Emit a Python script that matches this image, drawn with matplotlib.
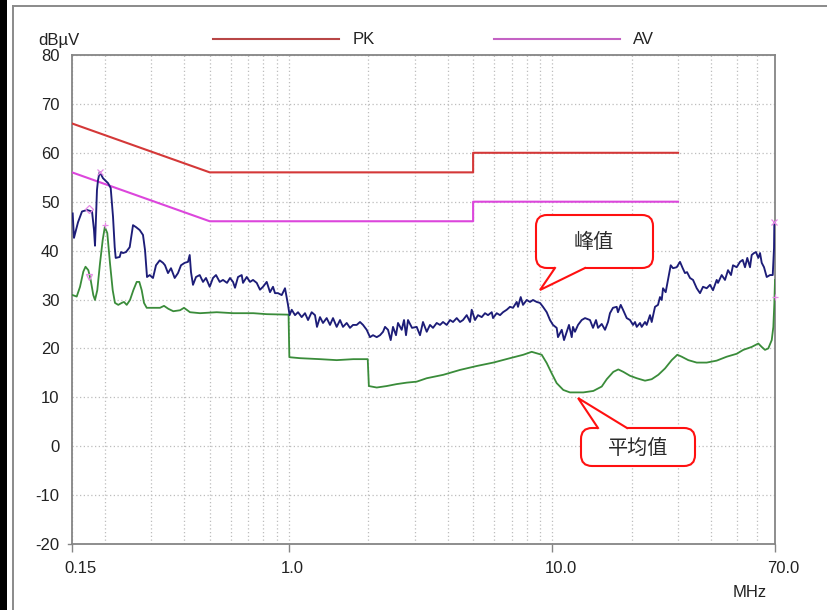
import matplotlib

matplotlib.use("Agg")
import matplotlib.pyplot as plt
from matplotlib.lines import Line2D
from matplotlib.patches import FancyBboxPatch, Polygon, Rectangle
from matplotlib.ticker import FixedLocator, NullFormatter
from matplotlib.transforms import Affine2D, ScaledTranslation

W, H, DPI = 828, 610, 100

# limit lines, MHz / dBuV
limit_freq = [0.15, 0.5, 0.5, 5.0, 5.0, 30.0]
pk_limit = [66, 56, 56, 56, 60, 60]
av_limit = [56, 46, 46, 46, 50, 50]

# peak trace (navy)
peak_freq = [
    0.1509, 0.1526, 0.1581, 0.1637, 0.1710, 0.1787, 0.1818, 0.1834, 0.1866, 0.1883,
    0.1911, 0.1967, 0.2055, 0.2104, 0.2147, 0.2179, 0.2198, 0.2276, 0.2302, 0.2343,
    0.2405, 0.2484, 0.2557, 0.2625, 0.2711, 0.2790, 0.2840, 0.2890, 0.2959, 0.3045,
    0.3126, 0.3229, 0.3323, 0.3382, 0.3472, 0.3564, 0.3681, 0.3789, 0.3890, 0.4018,
    0.4135, 0.4197, 0.4245, 0.4320, 0.4435, 0.4581, 0.4715, 0.4840, 0.4999, 0.5145,
    0.5282, 0.5456, 0.5616, 0.5816, 0.5970, 0.6129, 0.6237, 0.6403, 0.6613, 0.6689,
    0.6910, 0.7112, 0.7301, 0.7540, 0.7760, 0.7967, 0.8229, 0.8469, 0.8694, 0.8847,
    0.9084, 0.9382, 0.9656, 0.9801, 0.9913, 1.005, 1.024, 1.054, 1.082, 1.117,
    1.150, 1.181, 1.219, 1.255, 1.277, 1.311, 1.346, 1.390, 1.431, 1.469,
    1.517, 1.562, 1.603, 1.656, 1.704, 1.750, 1.807, 1.860, 1.910, 1.972,
    2.030, 2.084, 2.153, 2.216, 2.275, 2.315, 2.376, 2.433, 2.482, 2.548,
    2.593, 2.678, 2.733, 2.781, 2.830, 2.931, 3.053, 3.143, 3.226, 3.333,
    3.430, 3.521, 3.637, 3.744, 3.843, 3.969, 4.086, 4.194, 4.332, 4.459,
    4.577, 4.728, 4.866, 4.939, 5.083, 5.218, 5.390, 5.548, 5.695, 5.883,
    5.950, 6.145, 6.326, 6.493, 6.707, 6.902, 7.086, 7.320, 7.403, 7.580,
    7.734, 7.988, 8.222, 8.440, 8.718, 8.972, 9.211, 9.515, 9.793, 10.05,
    10.38, 10.50, 10.85, 11.07, 11.33, 11.56, 11.84, 11.97, 12.18, 12.51,
    12.92, 13.30, 13.89, 14.26, 14.64, 14.90, 15.39, 15.84, 16.26, 16.54,
    16.98, 17.54, 17.74, 18.17, 18.54, 19.15, 19.71, 20.23, 20.59, 20.90,
    21.51, 21.83, 22.47, 22.80, 23.47, 23.82, 24.52, 25.17, 25.61, 26.00,
    26.30, 26.92, 27.47, 28.13, 28.70, 29.64, 30.51, 31.24, 31.87, 32.44,
    33.30, 34.19, 35.31, 36.34, 37.31, 38.53, 39.66, 40.71, 42.05, 42.53,
    43.93, 45.21, 46.42, 47.65, 48.49, 50.08, 51.55, 52.78, 53.85, 54.94,
    56.26, 57.10, 58.27, 59.30, 60.50, 61.41, 62.33, 63.59, 65.11, 67.02,
    68.63, 69.40, 69.60,
]
peak_level = [
    47.6, 42.6, 45.8, 48.0, 48.3, 48.0, 44.2, 41.0, 52.4, 54.4,
    56.1, 54.8, 53.8, 52.8, 46.9, 40.7, 38.5, 38.7, 39.7, 39.5,
    39.7, 40.7, 45.2, 44.8, 44.2, 43.2, 40.1, 34.6, 35.0, 34.4,
    37.0, 38.0, 37.5, 37.0, 35.4, 36.4, 34.4, 35.4, 37.0, 37.5,
    37.7, 39.1, 35.6, 33.0, 34.6, 35.0, 33.6, 34.4, 32.6, 34.4,
    35.0, 33.6, 34.0, 33.4, 34.4, 33.6, 32.4, 34.6, 35.0, 33.4,
    34.6, 33.6, 34.0, 33.4, 32.0, 32.6, 33.6, 31.5, 32.6, 31.3,
    31.3, 30.9, 32.3, 30.3, 28.9, 26.8, 27.9, 26.8, 27.4, 26.4,
    27.2, 25.8, 27.4, 26.8, 24.4, 26.4, 25.2, 26.2, 24.8, 26.2,
    24.4, 25.8, 24.4, 25.2, 24.2, 24.8, 24.8, 25.4, 24.8, 23.8,
    22.3, 22.7, 22.3, 22.7, 23.4, 24.4, 23.8, 21.7, 24.4, 22.7,
    25.2, 23.8, 25.8, 22.7, 25.8, 24.2, 24.4, 22.7, 25.4, 23.4,
    24.8, 24.2, 25.2, 24.8, 25.4, 24.8, 25.8, 25.4, 26.2, 25.4,
    25.8, 26.8, 25.4, 27.9, 25.8, 26.8, 26.4, 27.2, 26.8, 27.4,
    26.2, 27.2, 26.8, 27.4, 27.9, 28.5, 28.3, 29.5, 28.5, 30.5,
    28.9, 29.9, 29.5, 29.9, 29.5, 29.3, 28.5, 27.4, 25.8, 24.8,
    24.2, 22.3, 23.8, 21.7, 23.4, 24.8, 22.3, 24.4, 23.4, 24.8,
    25.8, 26.2, 25.8, 24.2, 25.8, 24.2, 25.0, 23.8, 25.4, 27.2,
    28.3, 28.5, 27.4, 28.9, 27.9, 26.2, 25.8, 24.8, 25.4, 24.4,
    25.2, 24.4, 25.4, 24.8, 26.8, 25.4, 28.5, 28.9, 30.5, 29.9,
    32.3, 31.5, 34.0, 37.0, 36.4, 36.6, 37.7, 36.4, 35.4, 35.6,
    34.4, 34.0, 32.3, 31.3, 32.6, 32.3, 33.0, 31.9, 34.0, 33.4,
    35.0, 34.0, 36.0, 35.0, 37.0, 36.6, 37.7, 38.1, 36.6, 38.5,
    36.6, 39.1, 39.5, 39.7, 38.5, 39.5, 37.5, 36.6, 34.6, 35.0,
    35.0, 40.5, 45.8,
]

# average trace (green)
avg_freq = [
    0.1509, 0.1563, 0.1609, 0.1656, 0.1688, 0.1730, 0.1766, 0.1807, 0.1834, 0.1871,
    0.1916, 0.1962, 0.1998, 0.2042, 0.2091, 0.2141, 0.2184, 0.2248, 0.2316, 0.2363,
    0.2420, 0.2491, 0.2564, 0.2641, 0.2702, 0.2759, 0.2815, 0.2882, 0.3053, 0.3237,
    0.3353, 0.3481, 0.3637, 0.3856, 0.3993, 0.4208, 0.4593, 0.5315, 0.6145, 0.7321,
    0.8229, 0.9960, 1.0030, 1.101, 1.311, 1.517, 1.754, 1.990, 2.010, 2.153,
    2.349, 2.563, 2.799, 3.053, 3.333, 3.853, 4.459, 5.160, 5.965, 6.902,
    7.754, 8.345, 8.718, 9.108, 9.515, 9.938, 10.38, 11.00, 11.66, 13.10,
    14.30, 15.39, 16.08, 17.03, 17.79, 18.59, 19.71, 20.90, 22.47, 23.82,
    25.24, 26.76, 28.37, 29.80, 30.97, 32.81, 35.31, 38.53, 42.05, 45.89,
    50.08, 53.06, 57.10, 60.50, 62.33, 64.14, 66.02, 68.03, 68.99, 69.60,
    70.0,
]
avg_level = [
    30.9, 30.6, 32.6, 35.7, 36.7, 36.0, 34.0, 30.9, 29.9, 31.9,
    37.4, 42.2, 44.8, 43.6, 37.4, 31.9, 29.3, 28.9, 29.3, 29.5,
    28.9, 29.9, 31.9, 33.6, 33.6, 31.9, 29.3, 28.3, 28.3, 28.3,
    28.7, 28.1, 27.6, 27.8, 28.3, 27.4, 27.2, 27.4, 27.2, 27.2,
    27.0, 26.9, 18.2, 18.0, 17.8, 17.6, 17.8, 17.8, 12.3, 12.0,
    12.3, 12.7, 13.0, 13.2, 13.9, 14.6, 15.6, 16.4, 17.1, 18.0,
    18.7, 19.3, 19.0, 18.7, 17.0, 14.9, 12.9, 11.5, 11.0, 11.0,
    11.3, 12.2, 13.7, 15.2, 15.7, 15.2, 14.4, 13.9, 13.4, 13.7,
    14.6, 15.9, 17.6, 18.7, 18.3, 17.6, 17.1, 17.1, 17.5, 18.3,
    18.9, 19.7, 20.3, 21.0, 20.3, 19.7, 20.0, 21.7, 24.4, 29.2,
    34.0,
]

# small pink markers on the traces
mark_freq = [0.1911, 69.6, 0.1736, 0.2007, 0.1736, 70.0]
mark_level = [56.1, 45.8, 48.6, 45.2, 34.7, 30.5]
mark_style = ["x", "x", "D", "+", "v", "+"]

x_ticks = [0.15, 1.0, 10.0, 70.0]
x_ticklabels = ["0.15", "1.0", "10.0", "70.0"]
x_minor = [0.2, 0.3, 0.4, 0.5, 0.6, 0.7, 0.8, 0.9, 2, 3, 4, 5, 6, 7, 8, 9, 20, 30, 40, 50, 60]
y_ticks = list(range(-20, 81, 10))

NAVY = "#1d1d78"
GREEN = "#3a8c3a"
PK_RED = "#d43838"
AV_MAG = "#dc46dc"
GRID = "#bdbdbd"
SPINE = "#858585"
INK = "#222222"
CALLOUT = "#ff1010"
PINK = "#e68ae6"

plt.rcParams["font.family"] = ["Liberation Sans", "DejaVu Sans"]
plt.rcParams["axes.unicode_minus"] = False

fig = plt.figure(figsize=(W / DPI, H / DPI), dpi=DPI)
fig.patch.set_facecolor("white")
# pixel coords of the picture, y measured from the top
PX = Affine2D().scale(1 / DPI, -1 / DPI).translate(0, H / DPI) + fig.dpi_scale_trans

ax = fig.add_axes([72 / W, (H - 544) / H, (775 - 72) / W, (544 - 55) / H])
ax.set_xscale("log")
ax.set_xlim(0.15, 70)
ax.set_ylim(-20, 80)

ax.plot(limit_freq, pk_limit, color=PK_RED, lw=1.5, zorder=3)
ax.plot(limit_freq, av_limit, color=AV_MAG, lw=1.5, zorder=3)
ax.plot(avg_freq, avg_level, color=GREEN, lw=1.3, zorder=4)
ax.plot(peak_freq, peak_level, color=NAVY, lw=1.35, zorder=5)
for f, v, m in zip(mark_freq, mark_level, mark_style):
    ax.plot([f], [v], marker=m, ms=4.5, mec=PINK, mfc="none", mew=0.9, ls="none",
            zorder=6, clip_on=False)

ax.xaxis.set_major_locator(FixedLocator(x_ticks))
ax.set_xticklabels(x_ticklabels, ha="left")
ax.xaxis.set_minor_locator(FixedLocator(x_minor))
ax.xaxis.set_minor_formatter(NullFormatter())
ax.set_yticks(y_ticks)
ax.tick_params(axis="x", which="major", length=5.8, width=1.0, color=SPINE, direction="out",
               pad=6.5, labelsize=12, labelcolor=INK)
ax.tick_params(axis="x", which="minor", length=0)
ax.tick_params(axis="y", length=0, pad=9, labelsize=12, labelcolor=INK)
for lbl in ax.get_xticklabels():
    lbl.set_transform(lbl.get_transform() + ScaledTranslation(-8 / DPI, 0, fig.dpi_scale_trans))

ax.grid(True, which="both", axis="x", ls=(0, (1, 2)), color=GRID, lw=0.9)
ax.grid(True, which="major", axis="y", ls=(0, (1, 2)), color=GRID, lw=0.9)
ax.set_axisbelow(True)
for s in ax.spines.values():
    s.set_color(SPINE)
    s.set_linewidth(1.3)

# little tick at the -20 corner
fig.add_artist(Line2D([68, 72], [544, 544], color=SPINE, lw=1.0, transform=PX))

# units
fig.text(38, 45, "dBµV", transform=PX, fontsize=12, color=INK, ha="left", va="baseline")
fig.text(733, 597, "MHz", transform=PX, fontsize=12, color=INK, ha="left", va="baseline")

# legend
fig.add_artist(Line2D([213, 339], [38.5, 38.5], color="#b84646", lw=1.5, transform=PX))
fig.text(353, 44.5, "PK", transform=PX, fontsize=12, color=INK, ha="left", va="baseline")
fig.add_artist(Line2D([494, 620], [38.5, 38.5], color="#c462c4", lw=1.5, transform=PX))
fig.text(633, 44.5, "AV", transform=PX, fontsize=12, color=INK, ha="left", va="baseline")

# outer frame of the screenshot
fig.add_artist(Rectangle((0, 0), 7, H, color="black", transform=PX, lw=0))
fig.add_artist(Line2D([13, 13], [6, H], color="#8a8a8a", lw=1.4, transform=PX))
fig.add_artist(Line2D([13, W], [6, 6], color="#8a8a8a", lw=1.4, transform=PX))


def callout(box, base, tip, text, text_xy):
    x0, y0, x1, y1 = box
    fig.add_artist(FancyBboxPatch((x0, y0), x1 - x0, y1 - y0,
                                  boxstyle="round,pad=0,rounding_size=11",
                                  fc="white", ec=CALLOUT, lw=1.5, transform=PX, zorder=10))
    (bx0, by), (bx1, _) = base
    inward = 4 if by == y1 else -4
    fig.add_artist(Polygon([(bx0 + 1, by - inward), (bx0, by), tip, (bx1, by), (bx1 - 1, by - inward)],
                           closed=True, fc="white", ec="none", transform=PX, zorder=11))
    fig.add_artist(Line2D([bx0, tip[0], bx1], [by, tip[1], by], color=CALLOUT, lw=1.5,
                          transform=PX, zorder=12, solid_joinstyle="miter"))
    fig.text(text_xy[0], text_xy[1], text, transform=PX, ha="center", va="center",
             fontsize=14.5, color="#2a2a2a", family=["Noto Sans CJK SC", "DejaVu Sans"], zorder=13)


callout((536, 215, 653, 268), [(555, 268), (585, 268)], (540, 290), "峰值", (594, 243))
callout((581, 428, 695, 466), [(598, 428), (627, 428)], (578, 398), "平均值", (638, 448))

fig.savefig("out.png", dpi=DPI, facecolor="white")
